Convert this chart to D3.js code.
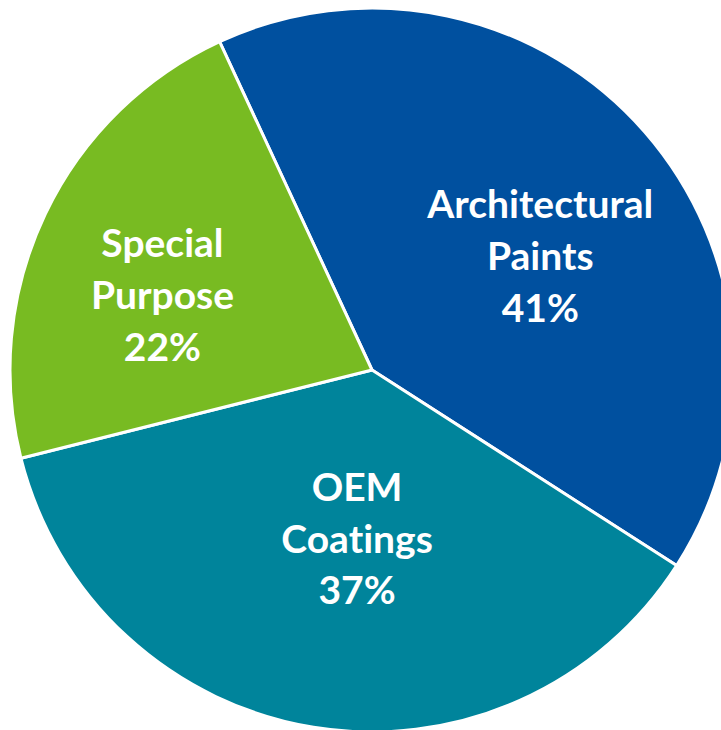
<!DOCTYPE html>
<html>
<head>
<meta charset="utf-8">
<script src="https://cdn.jsdelivr.net/npm/d3@7"></script>
<style>
  html, body { margin: 0; padding: 0; background: #ffffff; }
  svg { display: block; }
  text.label { font-variant-ligatures: none; font-feature-settings: "liga" 0, "clig" 0; }
</style>
</head>
<body>
<svg id="chart" width="721" height="730"></svg>
<script>
// Coatings market split by segment (share of total, %)
const categories = ["Architectural Paints", "OEM Coatings", "Special Purpose"];
const shares = [41, 37, 22];
const labelLines = [["Architectural", "Paints"], ["OEM", "Coatings"], ["Special", "Purpose"]];
const colors = ["#00509F", "#00849B", "#78BB22"];

// Layout
const width = 721, height = 730;
const cx = 372, cy = 370, radius = 362;
const startDeg = -24.9;
const labelRadius = 210;
const labelNudge = {
  "Architectural Paints": [10, 25],
  "OEM Coatings": [19, -38],
  "Special Purpose": [-20, 16]
};
const fontSize = 39, lineGap = 52;

const svg = d3.select("#chart");
const g = svg.append("g").attr("transform", `translate(${cx},${cy})`);

const rows = categories.map((c, i) => ({ name: c, value: shares[i], lines: labelLines[i], color: colors[i] }));

const start = startDeg * Math.PI / 180;
const pie = d3.pie().value(d => d.value).sort(null)
  .startAngle(start).endAngle(start + 2 * Math.PI);
const arcs = pie(rows);

const arc = d3.arc().innerRadius(0).outerRadius(radius);
const labelArc = d3.arc().innerRadius(labelRadius).outerRadius(labelRadius);

g.selectAll("path.slice")
  .data(arcs)
  .join("path")
  .attr("class", "slice")
  .attr("d", arc)
  .attr("fill", d => d.data.color)
  .attr("stroke", "#ffffff")
  .attr("stroke-width", 3)
  .attr("stroke-linejoin", "round");

const labels = g.selectAll("text.label")
  .data(arcs)
  .join("text")
  .attr("class", "label")
  .attr("text-anchor", "middle")
  .attr("fill", "#ffffff")
  .attr("font-family", "Lato, 'Open Sans', sans-serif")
  .attr("font-weight", "bold")
  .attr("font-size", fontSize)
  .attr("transform", d => {
    const [x, y] = labelArc.centroid(d);
    const [nx, ny] = labelNudge[d.data.name];
    return `translate(${x + nx},${y + ny})`;
  });

labels.each(function (d) {
  const t = d3.select(this);
  const lines = d.data.lines.concat([d.data.value + "%"]);
  // block is vertically centred on the anchor: cap top of line 1 to baseline of line 3
  const capH = fontSize * 0.68;
  const firstBaseline = -((lines.length - 1) * lineGap + capH) / 2 + capH;
  lines.forEach((s, i) => {
    t.append("tspan")
      .attr("x", 0)
      .attr("y", firstBaseline + i * lineGap)
      .text(s);
  });
});
</script>
</body>
</html>
